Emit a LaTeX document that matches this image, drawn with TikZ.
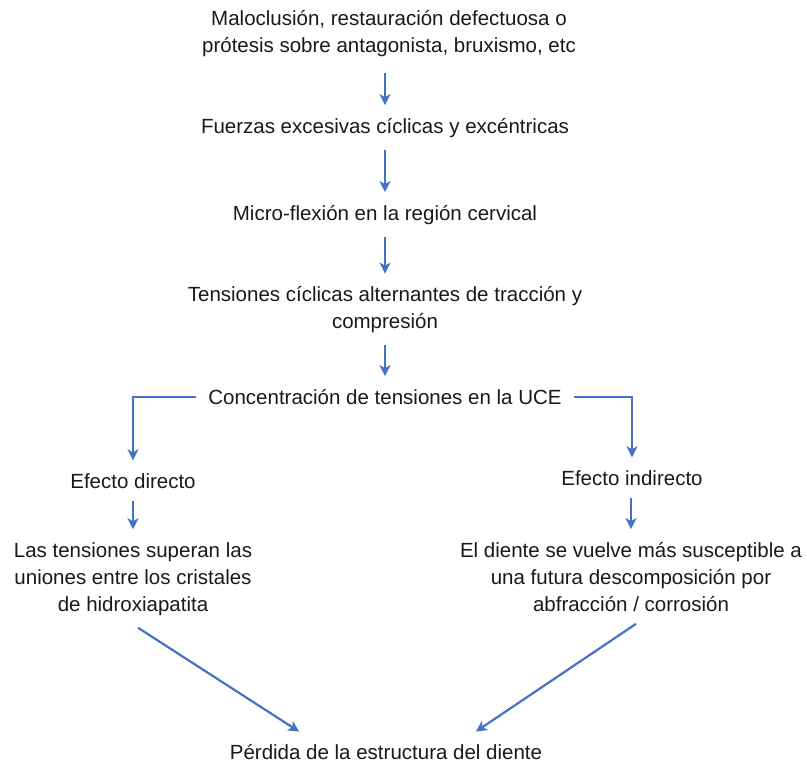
\documentclass[tikz,border=0pt]{standalone}
\usepackage{fontspec}
\setmainfont{Liberation Sans}
\usepackage{xcolor}
\usetikzlibrary{arrows.meta}
\definecolor{arrowblue}{HTML}{4472C4}

\begin{document}
\begin{tikzpicture}[x=1pt, y=-1pt,
  paths/.style={->, line width=2.2pt, arrowblue, >={Stealth[length=11pt,width=11pt,inset=3pt]}, shorten >=1pt},
  texts/.style={align=center, inner sep=12pt, text=black!90,
    font=\fontsize{20.5}{27}\selectfont}]

 \useasboundingbox (0,0) rectangle (807,764);

 \node[texts] (cause_1) at (389,34)
     {Maloclusión, restauración defectuosa o\\prótesis sobre antagonista, bruxismo, etc};

 \node[texts] (cause_2) at (385,128)
     {Fuerzas excesivas cíclicas y excéntricas};

 \node[texts] (cause_3) at (385,215)
     {Micro-flexión en la región cervical};

 \node[texts] (cause_4) at (385,310)
     {Tensiones cíclicas alternantes de tracción y\\compresión};

 \node[texts] (cause_5) at (385,397)
     {Concentración de tensiones en la UCE};

 \node[texts] (effect_1) at (133,481)
     {Efecto directo};

 \node[texts] (effect_2) at (632,478)
     {Efecto indirecto};

 \node[texts] (result_1) at (133,579)
     {Las tensiones superan las\\uniones entre los cristales\\de hidroxiapatita};

 \node[texts] (result_2) at (631,577)
     {El diente se vuelve más susceptible a\\una futura descomposición por\\abfracción / corrosión};

 \node[texts] (loss) at (386,752)
     {Pérdida de la estructura del diente};


 \draw [paths] ([yshift=-4pt]cause_1.south -| cause_2) -- (cause_2);
 \draw [paths] (cause_2) -- (cause_3);
 \draw [paths] (cause_3) -- (cause_4);
 \draw [paths] (cause_4) -- (cause_5);
 \draw [paths] (cause_5.west) -| (effect_1.north);
 \draw [paths] (cause_5.east) -| (effect_2.north);
 \draw [paths] (effect_1) -- (result_1);
 \draw [paths] (effect_2.south -| result_2) -- (result_2);
 \draw [paths] ([xshift=5pt]result_1.south) -- ([xshift=-86pt]loss.north);
 \draw [paths] ([xshift=5pt]result_2.south) -- ([xshift=89pt]loss.north);


\end{tikzpicture}
\end{document}
